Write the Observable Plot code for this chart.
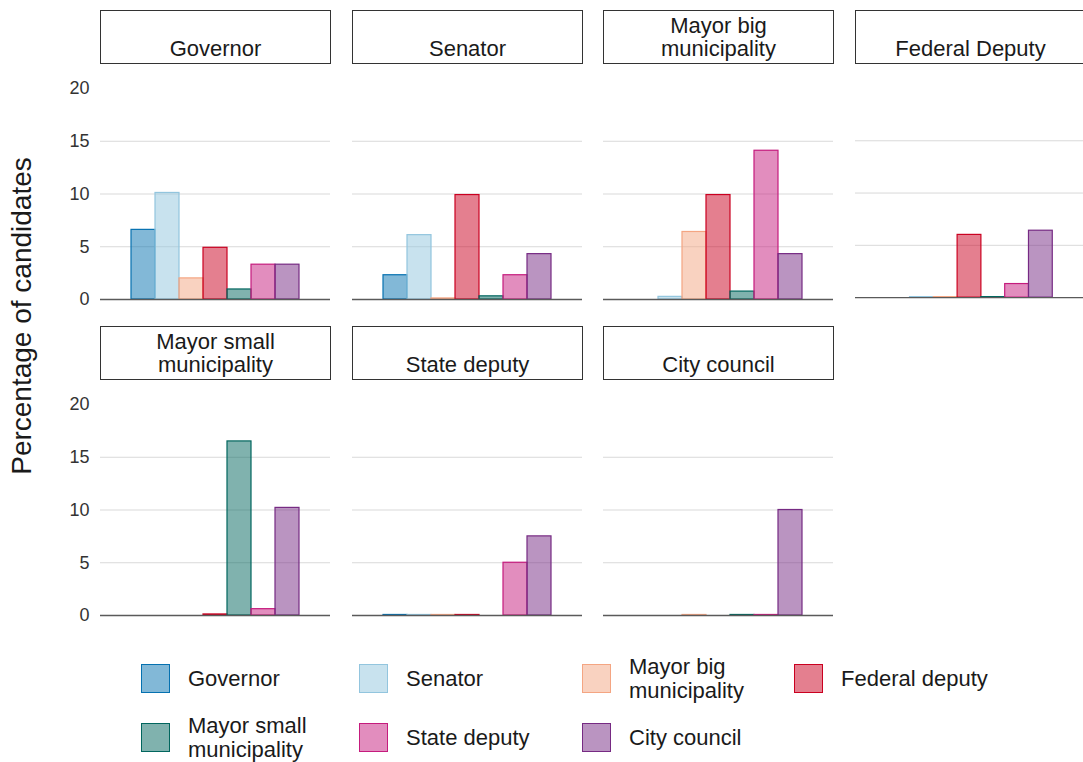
<!DOCTYPE html>
<html><head><meta charset="utf-8">
<script src="https://cdn.jsdelivr.net/npm/d3@7"></script>
<script src="https://cdn.jsdelivr.net/npm/@observablehq/plot@0.6"></script>
<style>
body{margin:0;background:#fff;font-family:"Liberation Sans",Arial,sans-serif;}
#root{position:relative;width:1083px;height:762px;overflow:hidden;background:#fff;}
.strip{position:absolute;box-sizing:border-box;border:1px solid #333;background:#fff;display:flex;flex-direction:column;justify-content:flex-end;align-items:center;font-size:22px;line-height:23px;color:#1a1a1a;padding-bottom:3px;text-align:center;}
.panel{position:absolute;}
.ytitle{position:absolute;left:22px;top:316px;transform:translate(-50%,-50%) rotate(-90deg);font-size:28px;color:#1a1a1a;white-space:nowrap;}
.key{position:absolute;width:29px;height:29px;box-sizing:border-box;border:1.5px solid;}
.klab{position:absolute;font-size:22px;line-height:24px;color:#1a1a1a;transform:translateY(-50%);white-space:nowrap;}
</style>
</head><body><div id="root"></div>
<script>
// Facet panels (candidate office of origin)
const panels = ["Governor", "Senator", "Mayor big\nmunicipality", "Federal Deputy", "Mayor small\nmunicipality", "State deputy", "City council"];
// Series (office sought)
const series = ["Governor", "Senator", "Mayor big municipality", "Federal deputy", "Mayor small municipality", "State deputy", "City council"];
const legendLabels = ["Governor", "Senator", "Mayor big\nmunicipality", "Federal deputy", "Mayor small\nmunicipality", "State deputy", "City council"];
const strokeColors = ["#0571b0", "#92c5de", "#f4a582", "#ca0020", "#01665e", "#c51b7d", "#762a83"];
// Percentage of candidates, one array per panel, in series order
const valGovernor    = [6.6, 10.1, 2.0, 4.9, 0.95, 3.3, 3.3];
const valSenator     = [2.3, 6.1, 0.1, 9.9, 0.3, 2.3, 4.3];
const valMayorBig    = [0, 0.25, 6.4, 9.9, 0.75, 14.1, 4.3];
const valFederal     = [0, 0.05, 0.05, 6.0, 0.05, 1.3, 6.4];
const valMayorSmall  = [0, 0, 0, 0.1, 16.5, 0.6, 10.2];
const valStateDeputy = [0.05, 0.05, 0.05, 0.05, 0, 5.0, 7.5];
const valCityCouncil = [0, 0, 0.05, 0, 0.05, 0.05, 10.0];
const yTicks = [0, 5, 10, 15, 20];

const panelValues = [valGovernor, valSenator, valMayorBig, valFederal, valMayorSmall, valStateDeputy, valCityCouncil];

const root = document.getElementById("root");
const colLeft = [100, 352, 603, 855];
const panelW = 230;
const rowStripTop = [10, 326];
const stripH = 54;
const rowPlotTop = [86, 402];
const svgH = 216;

const yt = document.createElement("div");
yt.className = "ytitle";
yt.textContent = "Percentage of candidates";
root.appendChild(yt);

panels.forEach((p, i) => {
  const col = i % 4, row = Math.floor(i / 4);
  const strip = document.createElement("div");
  strip.className = "strip";
  strip.style.left = colLeft[col] + "px";
  strip.style.top = rowStripTop[row] + "px";
  strip.style.width = (panelW + 1) + "px";
  strip.style.height = stripH + "px";
  p.split("\n").forEach(l => { const d = document.createElement("div"); d.textContent = l; strip.appendChild(d); });
  root.appendChild(strip);

  const data = series.map((s, j) => ({series: s, value: panelValues[i][j]}));
  const first = col === 0;
  const ml = first ? 40 : 0;
  const chart = Plot.plot({
    width: panelW + ml,
    height: svgH,
    marginTop: 2,
    marginBottom: 3,
    marginLeft: ml,
    marginRight: 0,
    style: {fontFamily: '"Liberation Sans", Arial, sans-serif', background: "transparent", overflow: "visible"},
    x: {domain: series, axis: null, paddingInner: 0, paddingOuter: 1.14},
    y: {domain: [0, 20], axis: null},
    color: {domain: series, range: strokeColors},
    marks: [
      Plot.gridY([5, 10, 15], {stroke: "#d9d9d9", strokeOpacity: 1, strokeWidth: 1}),
      Plot.barY(data, {x: "series", y: "value", fill: "series", fillOpacity: 0.5, stroke: "series", strokeWidth: 1.2}),
      Plot.ruleY([0], {stroke: "#5a5a5a", strokeWidth: 1.5}),
      first ? Plot.axisY(yTicks, {tickSize: 0, tickPadding: 11, fontSize: 18, fill: "#333", label: null}) : null
    ]
  });
  const wrap = document.createElement("div");
  wrap.className = "panel";
  wrap.style.left = (colLeft[col] - ml) + "px";
  wrap.style.top = rowPlotTop[row] + "px";
  wrap.appendChild(chart);
  root.appendChild(wrap);
});

// Legend
const legCols = [141, 359, 582, 794];
const legRows = [664, 723];
series.forEach((s, j) => {
  const c = j % 4, r = Math.floor(j / 4);
  const k = document.createElement("div");
  k.className = "key";
  const col = d3.color(strokeColors[j]);
  k.style.borderColor = strokeColors[j];
  k.style.background = `rgba(${col.r},${col.g},${col.b},0.5)`;
  k.style.left = legCols[c] + "px";
  k.style.top = legRows[r] + "px";
  root.appendChild(k);
  const lab = document.createElement("div");
  lab.className = "klab";
  lab.style.left = (legCols[c] + 47) + "px";
  lab.style.top = (legRows[r] + 15) + "px";
  legendLabels[j].split("\n").forEach(l => { const d = document.createElement("div"); d.textContent = l; lab.appendChild(d); });
  root.appendChild(lab);
});
</script>
</body></html>
